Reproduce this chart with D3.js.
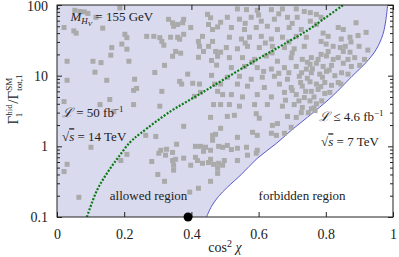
<!DOCTYPE html>
<meta charset="utf-8">
<style>
body { margin: 0; background: #fff; }
svg text { font-family: "Liberation Serif", "DejaVu Serif", serif; fill: #222; }
.pt { fill: #aaaaaa; }
</style>
<body>
<script src="https://d3js.org/d3.v7.min.js"></script>
<script>

// scan points: cos^2 chi and width ratio
var ptX = [0.021,0.053,0.068,0.081,0.092,0.050,0.057,0.116,0.136,0.187,0.202,0.208,0.163,0.193,0.208,0.160,0.030,0.107,0.131,0.214,
  0.113,0.030,0.148,0.231,0.237,0.228,0.157,0.128,0.228,0.021,
  0.267,0.288,0.306,0.312,0.318,0.332,0.344,0.347,0.359,0.377,0.374,0.398,0.377,0.365,0.359,0.338,0.353,0.344,0.368,0.320,
  0.291,0.312,0.306,0.365,0.371,0.389,0.404,0.424,0.427,0.409,0.421,0.433,0.424,0.436,0.421,0.448,0.457,0.451,0.463,0.478,
  0.487,0.451,0.463,0.472,0.478,0.487,0.460,0.475,0.460,0.469,0.487,0.478,0.493,0.466,0.487,
  0.537,0.564,0.596,0.638,0.671,0.712,0.736,0.507,0.543,0.578,0.608,0.647,0.686,0.715,
  0.519,0.558,0.593,0.626,0.656,0.691,0.727,0.513,0.549,0.573,0.608,0.638,0.671,0.712,0.742,
  0.504,0.537,0.567,0.602,0.641,0.677,0.706,0.736,0.513,0.552,0.588,0.623,0.656,0.697,0.730,
  0.519,0.558,0.596,0.638,0.677,0.712,0.742,0.507,0.543,0.578,0.611,0.647,0.686,0.721,
  0.537,0.567,0.617,0.662,0.697,0.730,0.519,0.552,0.596,0.638,0.677,0.712,0.736,
  0.513,0.543,0.588,0.626,0.671,0.706,0.730,
  0.680,0.700,0.725,0.690,0.660,0.615,0.580,0.640,0.700,0.560,0.620,0.690,0.600,0.660,0.700,0.560,
  0.754,0.772,0.786,0.754,0.772,0.837,0.852,0.896,0.792,0.807,0.786,0.801,0.822,0.807,0.786,0.846,0.872,0.843,0.858,0.875,0.852,0.872,
  0.757,0.777,0.802,0.822,0.837,0.866,0.886,0.915,0.753,0.772,0.792,0.817,0.852,0.876,0.901,
  0.757,0.782,0.802,0.827,0.847,0.866,0.753,0.772,0.797,0.817,0.837,0.845,
  0.757,0.777,0.797,0.812,0.753,0.772,0.788,0.765,0.757,0.768,
  0.745,0.765,0.785,0.720,0.740,0.760,0.790,0.810,0.745,0.728,
  0.169,0.101,0.030,0.021,0.065,0.190,0.208,
  0.457,0.377,0.294,0.264,0.487,0.463,0.472,0.463,0.356,0.326,0.309,0.303,0.323,0.344,0.344,0.353,0.347,0.347,0.282,0.377,
  0.412,0.427,0.442,0.436,0.457,0.481,0.493,0.412,0.418,0.433,0.451,0.457,0.466,0.481,0.398,0.478,0.493,0.478,0.457,0.300,
  0.320,0.421,0.395,
  0.507,0.528,0.593,0.602,0.641,0.656,0.686,0.712,0.727,0.697,0.677,0.653,0.638,0.582,0.596,0.537,0.507,0.519,0.537,0.564,
  0.567,0.537,0.593,0.596,0.498,0.748,
  0.890,0.920,0.899,0.925];
var ptY = [48,84,81,80,76,43,40,67,47,91,38.5,34.5,25,28,23.7,19.5,16,16,15.3,16,
  11.2,8.6,8.6,8.9,6.6,6.2,4.6,3.9,3.9,4.3,
  36,36,34.5,30.5,27,62.7,56,50,53,62.7,56,48,38.5,32.8,35,35,22,18.8,20.8,14,
  11.1,6.0,3.7,8.3,7.6,10.5,7.8,7.6,5.8,5.1,30.5,36,26,22,18.2,73.7,66,53,45,49,
  57,26,30.5,22,18.8,21.5,16.4,14.1,10.1,7.6,7.6,6.0,5.4,3.9,3.9,
  88,86,84,86,88,88,81,67,63,67,59,63,67,67,
  48,45,48,50,45,48,45,35,33,35,36,33,35,36,35,
  25,24,26,25,26,25,24,26,18,18,17,19,16,18,17,
  13,13.5,13,12.4,13,13.5,12.4,9.5,9.8,8.9,9.5,9.8,8.9,9.8,
  7.6,7.1,6.8,7.6,6.8,7.1,5.4,5.0,5.4,5.0,5.8,5.4,4.9,
  3.9,3.7,3.9,3.9,3.7,3.9,3.55,
  4.5,6.2,8.0,11.0,10.8,11.5,15.5,21,21,29,29,30,72,75,55,55,
  78,73.7,67,59,53,48,45,37,40,36,30.5,28,26,22,20,33,35,25,26,30,22,21.5,
  18,17,19,17,18,17,18,17,14.5,15,13.5,14,15,13.5,14,
  11,10.5,11.5,10,11,10.5,8.2,7.6,8.0,7.3,8.0,7.6,
  6.0,6.4,5.6,5.8,4.4,4.0,4.4,3.5,3.4,3.2,
  9.2,5.0,7.0,4.4,6.0,12.5,9.5,12,15.5,11,
  3.1,0.97,0.557,0.44,0.19,0.63,0.77,
  2.57,1.92,1.38,1.43,1.8,1.43,1.48,1.22,1.07,0.91,0.88,0.8,0.75,0.82,0.63,0.655,0.54,0.46,0.61,0.68,
  1.0,1.0,0.97,0.85,0.88,1.0,0.97,0.7,0.63,0.575,0.59,0.655,0.557,0.575,0.54,0.49,0.54,0.415,0.32,0.40,
  0.32,0.255,0.225,
  2.65,2.75,2.9,2.5,1.98,2.1,2.65,2.57,3.0,1.86,1.53,1.43,1.53,1.58,1.43,1.34,1.03,0.9,0.94,0.97,
  0.75,0.63,0.8,0.88,0.63,3.0,
  56,41,26,23];

// edge of the allowed region (blue)
var edgeX = [0.445,0.460,0.481,0.507,0.549,0.596,0.653,0.697,0.745,0.819,0.878,0.920,0.950,0.970,0.979,0.984];
var edgeY = [0.1,0.142,0.196,0.263,0.402,0.676,1.10,1.68,2.57,5.1,9.8,15.4,23.5,38.4,62.5,100];

// projected reach, L = 50 fb^-1 at 14 TeV (green dotted)
var reachX = [0.089,0.119,0.148,0.183,0.218,0.249,0.338,0.398,0.448,0.499,0.558,0.617,0.677,0.748,0.798,0.852];
var reachY = [0.1,0.239,0.411,0.706,1.15,1.53,3.13,4.62,6.4,9.0,13.3,19.4,28.2,44.5,65.7,100];

var xTicks = [0, 0.2, 0.4, 0.6, 0.8, 1];
var xTickLabels = ["0", "0.2", "0.4", "0.6", "0.8", "1"];
var yTicks = [0.1, 1, 10, 100];
var yTickLabels = ["0.1", "1", "10", "100"];

var dotX = 0.39, dotY = 0.1;

var margin = {top: 5, right: 6, bottom: 40, left: 57},
    width = 399 - margin.left - margin.right,
    height = 257 - margin.top - margin.bottom;

var x = d3.scaleLinear().domain([0, 1]).range([0, width]);
var y = d3.scaleLog().domain([0.1, 100]).range([height, 0]);

var svg = d3.select("body").append("svg")
    .attr("width", 399)
    .attr("height", 257);
var g = svg.append("g")
    .attr("transform", "translate(" + margin.left + "," + margin.top + ")");

svg.append("defs").append("clipPath").attr("id", "clip")
  .append("rect").attr("width", width).attr("height", height);

var edge = edgeX.map(function(v, i) { return [v, edgeY[i]]; });
var reach = reachX.map(function(v, i) { return [v, reachY[i]]; });

var line = d3.line()
    .x(function(d) { return x(d[0]); })
    .y(function(d) { return y(d[1]); })
    .curve(d3.curveCatmullRom.alpha(0.5));

var plot = g.append("g").attr("clip-path", "url(#clip)");

// allowed region
plot.append("path")
    .attr("d", line(edge) + "L" + x(0) + "," + y(100) + "L" + x(0) + "," + y(0.1) + "Z")
    .attr("fill", "#dadaee");

plot.append("path")
    .attr("d", line(edge))
    .attr("fill", "none")
    .attr("stroke", "#4a4ac4")
    .attr("stroke-width", 0.9);

plot.selectAll(".pt")
    .data(ptX.map(function(v, i) { return [v, ptY[i]]; }))
  .enter().append("rect")
    .attr("class", "pt")
    .attr("x", function(d) { return x(d[0]) - 2.5; })
    .attr("y", function(d) { return y(d[1]) - 2.5; })
    .attr("width", 5)
    .attr("height", 5);

plot.append("path")
    .attr("d", line(reach))
    .attr("fill", "none")
    .attr("stroke", "#0a7a12")
    .attr("stroke-width", 2.2)
    .attr("stroke-dasharray", "2,1.6");

// frame and ticks
g.append("rect")
    .attr("width", width).attr("height", height)
    .attr("fill", "none").attr("stroke", "#222").attr("stroke-width", 1);

g.append("g")
    .attr("transform", "translate(0," + height + ")")
    .call(d3.axisBottom(x).tickValues(xTicks).tickSizeInner(-5).tickSizeOuter(0).tickPadding(12)
      .tickFormat(function(d, i) { return xTickLabels[i]; }))
    .call(function(a) { a.select(".domain").remove(); });

g.append("g")
    .call(d3.axisTop(x).tickValues(xTicks).tickSizeInner(-5).tickSizeOuter(0).tickFormat(""))
    .call(function(a) { a.select(".domain").remove(); });

var minor = [];
[0.1, 1, 10].forEach(function(dec) {
  for (var k = 2; k <= 9; k++) minor.push(dec * k);
});

g.append("g")
    .call(d3.axisLeft(y).tickValues(yTicks).tickSizeInner(-5).tickSizeOuter(0).tickPadding(9)
      .tickFormat(function(d, i) { return yTickLabels[i]; }))
    .call(function(a) { a.select(".domain").remove(); });
g.append("g")
    .call(d3.axisLeft(y).tickValues(minor).tickSizeInner(-3).tickSizeOuter(0).tickFormat(""))
    .call(function(a) { a.select(".domain").remove(); });
g.append("g")
    .attr("transform", "translate(" + width + ",0)")
    .call(d3.axisRight(y).tickValues(yTicks).tickSizeInner(-5).tickSizeOuter(0).tickFormat(""))
    .call(function(a) { a.select(".domain").remove(); });
g.append("g")
    .attr("transform", "translate(" + width + ",0)")
    .call(d3.axisRight(y).tickValues(minor).tickSizeInner(-3).tickSizeOuter(0).tickFormat(""))
    .call(function(a) { a.select(".domain").remove(); });

g.selectAll(".tick line").attr("stroke", "#222");
g.selectAll(".tick text")
    .style("font-family", "'Liberation Serif', serif")
    .style("font-size", "14px")
    .attr("fill", "#222");
// keep the top label inside the window
g.selectAll(".tick text").filter(function() { return this.textContent === "100"; })
    .attr("dy", "0.42em");

// point on the axis
g.append("circle")
    .attr("cx", x(dotX)).attr("cy", y(dotY)).attr("r", 4.5)
    .attr("fill", "#000");

// annotations
function note(px, py, size) {
  return g.append("text")
      .attr("x", x(px)).attr("y", y(py))
      .style("font-size", size + "px");
}

var t = note(0.04, 60, 13);
t.append("tspan").style("font-style", "italic").text("M");
t.append("tspan").style("font-style", "italic").style("font-size", "9px").attr("dy", 3).text("H");
t.append("tspan").style("font-style", "italic").style("font-size", "7px").attr("dy", 2).text("V");
t.append("tspan").attr("dy", -5).text(" = 155 GeV");

t = note(0.015, 2.57, 13);
t.append("tspan").style("font-style", "italic").text("\u2112");
t.append("tspan").text(" = 50 fb");
t.append("tspan").style("font-size", "9px").attr("dy", -5).text("\u22121");

t = note(0.015, 1.18, 13);
t.append("tspan").text("\u221A");
t.append("tspan").style("font-style", "italic").style("text-decoration", "overline").text("s");
t.append("tspan").text(" = 14 TeV");

t = note(0.78, 2.26, 13);
t.append("tspan").style("font-style", "italic").text("\u2112");
t.append("tspan").text(" \u2264 4.6 fb");
t.append("tspan").style("font-size", "9px").attr("dy", -5).text("\u22121");

t = note(0.786, 1.0, 13);
t.append("tspan").text("\u221A");
t.append("tspan").style("font-style", "italic").style("text-decoration", "overline").text("s");
t.append("tspan").text(" = 7 TeV");

note(0.157, 0.172, 13).text("allowed region");
note(0.6, 0.172, 13).text("forbidden region");

// axis titles
var xt = g.append("text")
    .attr("x", x(0.5)).attr("y", height + 35)
    .attr("text-anchor", "middle")
    .style("font-size", "14px");
xt.append("tspan").text("cos");
xt.append("tspan").style("font-size", "10px").attr("dy", -5).text("2");
xt.append("tspan").style("font-style", "italic").attr("dy", 5).text(" \u03C7");

var yt = svg.append("text")
    .attr("transform", "translate(18," + (margin.top + y(4.6)) + ") rotate(-90)")
    .attr("text-anchor", "middle")
    .style("font-size", "15px");
yt.append("tspan").text("\u0393");
yt.append("tspan").style("font-size", "9px").attr("dy", -6).text("hid");
yt.append("tspan").style("font-size", "9px").attr("dx", -13).attr("dy", 10).text("1");
yt.append("tspan").attr("dx", 9).attr("dy", -4).text("/\u0393");
yt.append("tspan").style("font-size", "9px").attr("dy", -6).text("SM");
yt.append("tspan").style("font-size", "9px").attr("dx", -13).attr("dy", 10).text("tot,1");

</script>
</body>
